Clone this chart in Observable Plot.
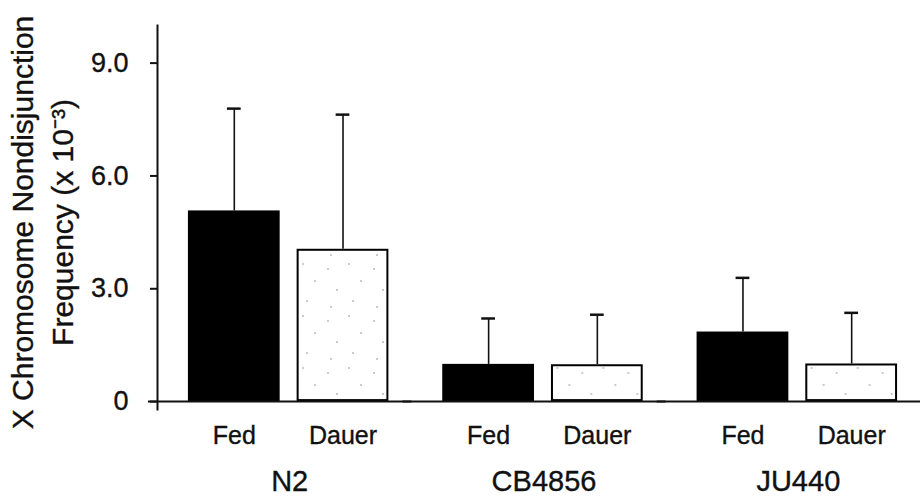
<!DOCTYPE html>
<html>
<head>
<meta charset="utf-8">
<script src="https://cdn.jsdelivr.net/npm/d3@7"></script>
<script src="https://cdn.jsdelivr.net/npm/@observablehq/plot@0.6"></script>
<style>
  html, body { margin: 0; padding: 0; background: #fff; }
  #chart { width: 920px; height: 496px; }
  #chart svg text { stroke: #111; stroke-width: 0.35px; }
</style>
</head>
<body>
<svg width="0" height="0" style="position:absolute">
  <defs>
    <pattern id="stipple" patternUnits="userSpaceOnUse" width="46" height="52">
      <rect width="46" height="52" fill="#fff"></rect>
      <circle cx="6" cy="9" r="0.8" fill="#8a8a8a"></circle>
      <circle cx="27" cy="4" r="0.8" fill="#8a8a8a"></circle>
      <circle cx="39" cy="21" r="0.8" fill="#8a8a8a"></circle>
      <circle cx="15" cy="30" r="0.8" fill="#8a8a8a"></circle>
      <circle cx="31" cy="41" r="0.8" fill="#8a8a8a"></circle>
      <circle cx="9" cy="47" r="0.8" fill="#8a8a8a"></circle>
    </pattern>
  </defs>
</svg>
<div id="chart"></div>
<script>
const strains = ["N2", "CB4856", "JU440"];
const conditions = ["Fed", "Dauer"];
const fedMean = [5.07, 0.99, 1.85];
const fedErr = [2.72, 1.22, 1.44];
const dauerMean = [4.05, 0.98, 1.0];
const dauerErr = [3.58, 1.33, 1.36];
const yTicks = [0, 3, 6, 9];
const yTickLabels = ["0", "3.0", "6.0", "9.0"];
const yLabel = "X Chromosome Nondisjunction\nFrequency (x 10\u207B\u00B3)";

const rows = [];
strains.forEach((s, i) => {
  rows.push({strain: s, cond: conditions[0], mean: fedMean[i], err: fedErr[i]});
  rows.push({strain: s, cond: conditions[1], mean: dauerMean[i], err: dauerErr[i]});
});

const plot = Plot.plot({
  width: 920,
  height: 496,
  marginTop: 25,
  marginBottom: 87,
  marginLeft: 157,
  marginRight: 0,
  style: {fontFamily: "'Liberation Sans', Arial, sans-serif", color: "#111", background: "#fff"},
  fx: {domain: strains, paddingInner: 0, paddingOuter: 0, round: false},
  x: {domain: conditions, paddingInner: 0.156, paddingOuter: 0.2477, align: 0.574, round: false},
  y: {domain: [-0.21, 10]},
  marks: [
    Plot.barY(rows.filter(d => d.cond === "Fed"), {fx: "strain", x: "cond", y1: 0, y2: "mean", fill: "#000"}),
    Plot.barY(rows.filter(d => d.cond === "Dauer"), {fx: "strain", x: "cond", y1: 0, y2: "mean", fill: "url(#stipple)", stroke: "#000", strokeWidth: 2, inset: 1}),
    Plot.ruleX(rows, {fx: "strain", x: "cond", y1: "mean", y2: d => d.mean + d.err, stroke: "#111", strokeWidth: 1.6}),
    Plot.tickY(rows, {fx: "strain", x: "cond", y: d => d.mean + d.err, stroke: "#111", strokeWidth: 2.5, insetLeft: 39, insetRight: 39}),
    Plot.ruleY([0], {stroke: "#111", strokeWidth: 2, insetLeft: -9}),
    Plot.frame({anchor: "left", facetAnchor: "left", stroke: "#111", strokeWidth: 2}),
    Plot.axisY({ticks: yTicks, tickFormat: d => yTickLabels[yTicks.indexOf(d)], tickSize: 7, tickPadding: 22, fontSize: 27, strokeWidth: 2, label: null}),
    Plot.axisX({tickSize: 0, tickPadding: 17, fontSize: 25, label: null}),
    Plot.axisFx({anchor: "bottom", tickSize: 0, tickPadding: 61, fontSize: 29, dx: 5, label: null}),
    Plot.text([yLabel], {fx: () => strains[0], text: d => d, frameAnchor: "left", textAnchor: "middle", rotate: -90, dx: -117, dy: 5, lineHeight: 1.333, fontSize: 30, fill: "#111"})
  ]
});
document.getElementById("chart").appendChild(plot);
</script>
</body>
</html>
